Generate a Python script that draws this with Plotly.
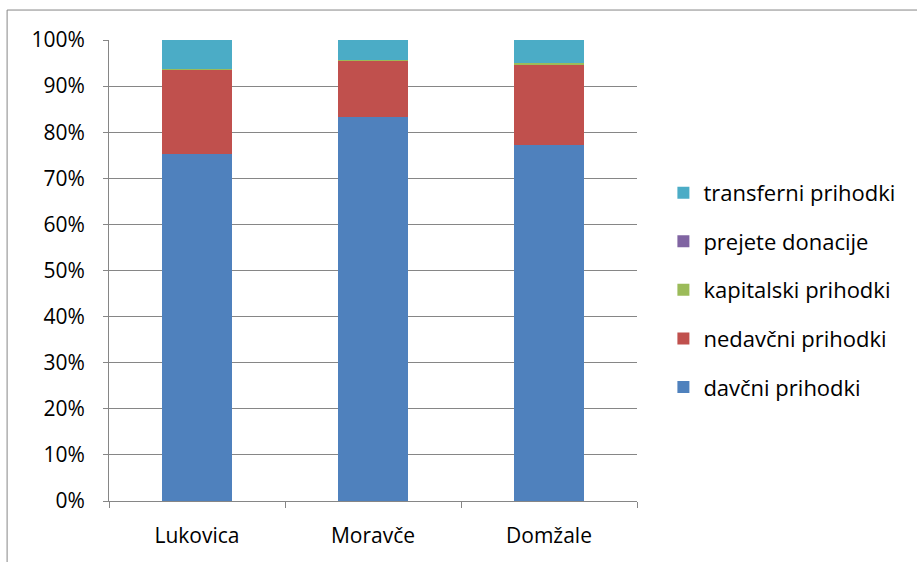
import plotly.graph_objects as go

# Municipal revenue structure (share of total revenue, %)
municipalities = ["Lukovica", "Moravče", "Domžale"]
davcni = [75.3, 83.4, 77.2]
nedavcni = [18.2, 12.1, 17.5]
kapitalski = [0.3, 0.1, 0.3]
donacije = [0.0, 0.0, 0.0]
transferni = [6.2, 4.4, 5.0]

series = [
    ("davčni prihodki", davcni, "#4F81BD"),
    ("nedavčni prihodki", nedavcni, "#C0504D"),
    ("kapitalski prihodki", kapitalski, "#9BBB59"),
    ("prejete donacije", donacije, "#8064A2"),
    ("transferni prihodki", transferni, "#4BACC6"),
]

fig = go.Figure()
n = len(series)
for i, (name, vals, color) in enumerate(series):
    fig.add_trace(go.Bar(
        x=municipalities, y=vals, name=name,
        marker=dict(color=color, line=dict(width=0)),
        width=0.4, legendgroup=name, legendrank=n - i,
    ))

font = "'Open Sans', sans-serif"
grid = "#868686"

fig.update_layout(
    barmode="stack",
    width=917, height=562,
    margin=dict(l=109, r=280, t=40, b=61),
    plot_bgcolor="white", paper_bgcolor="white",
    font=dict(family=font, size=22, color="#000000"),
    showlegend=True,
    legend=dict(
        x=1.05, y=0.458, xanchor="left", yanchor="middle",
        traceorder="grouped", tracegroupgap=17,
        font=dict(size=22), itemwidth=30,
    ),
    shapes=[dict(
        type="rect", xref="paper", yref="paper",
        x0=-0.193, x1=1.6, y0=-0.2, y1=1.065,
        line=dict(color=grid, width=1), layer="below",
    )],
)

fig.update_yaxes(
    range=[0, 100], dtick=10, ticksuffix="%",
    showgrid=True, gridcolor=grid, gridwidth=1,
    showline=True, linecolor=grid, linewidth=1,
    ticks="outside", ticklen=5, tickcolor=grid,
    zeroline=False, tickfont=dict(size=21), ticklabelstandoff=14,
)
fig.update_xaxes(
    showline=True, linecolor=grid, linewidth=1,
    ticks="outside", ticklen=6, tickcolor=grid,
    tickson="boundaries", tickfont=dict(size=21), ticklabelstandoff=16,
)

fig.write_html("out.html")
